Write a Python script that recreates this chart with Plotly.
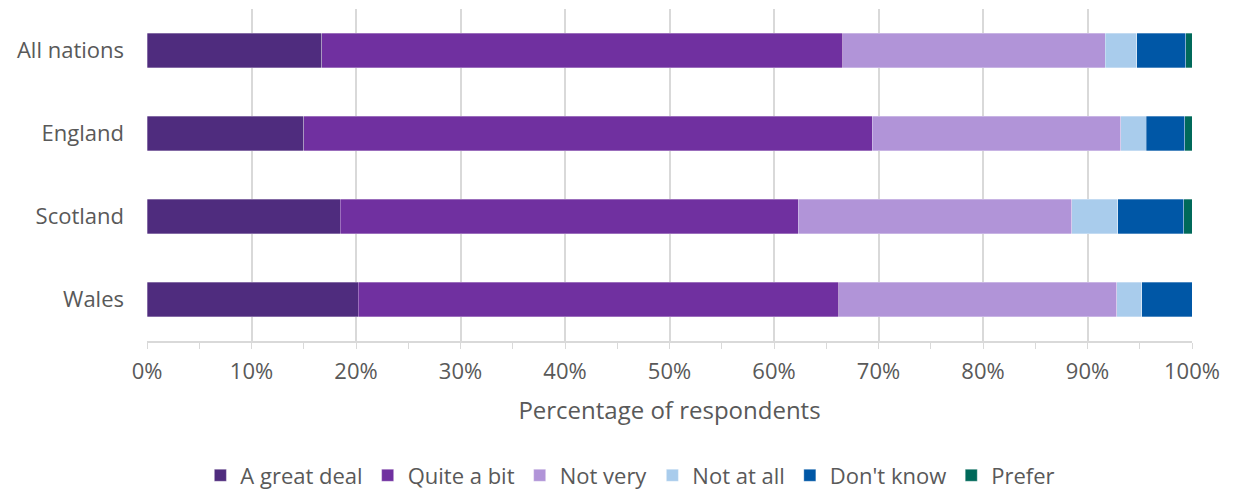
import plotly.graph_objects as go

categories = ["All nations", "England", "Scotland", "Wales"]
series_names = ["A great deal", "Quite a bit", "Not very", "Not at all", "Don't know", "Prefer"]
great_deal = [16.7, 15.0, 18.5, 20.2]
quite_a_bit = [49.9, 54.4, 43.8, 46.0]
not_very = [25.1, 23.8, 26.2, 26.6]
not_at_all = [3.0, 2.4, 4.4, 2.4]
dont_know = [4.7, 3.7, 6.3, 4.8]
prefer = [0.6, 0.7, 0.8, 0.0]
colors = ["#4F2C7E", "#7030A0", "#B194D8", "#A9CCEC", "#0057A6", "#00695A"]
tick_vals = [0, 10, 20, 30, 40, 50, 60, 70, 80, 90, 100]
tick_text = [f"{v}%" for v in tick_vals]

FONT = "Open Sans"
fig = go.Figure()
for name, vals, col in zip(series_names,
                           [great_deal, quite_a_bit, not_very, not_at_all, dont_know, prefer],
                           colors):
    fig.add_trace(go.Bar(
        y=categories, x=vals, name=name, orientation="h",
        marker=dict(color=col, line=dict(color="rgba(255,255,255,0.5)", width=0.6)),
        width=0.41,
    ))

fig.update_layout(
    barmode="stack",
    width=1236, height=492,
    margin=dict(l=147, r=44, t=9, b=151, autoexpand=False),
    plot_bgcolor="white", paper_bgcolor="white",
    font=dict(family=FONT, size=22, color="#595959"),
    legend=dict(orientation="h", xref="container", yref="paper",
                x=0.51, xanchor="center", y=-0.405, yanchor="middle",
                font=dict(size=22, color="#595959"),
                traceorder="normal", itemwidth=30),
    showlegend=True,
)
fig.update_xaxes(
    range=[0, 100], tickvals=tick_vals, ticktext=tick_text,
    showgrid=True, gridcolor="#D9D9D9", gridwidth=2,
    showline=True, linecolor="#D9D9D9", linewidth=2,
    ticks="outside", ticklen=6, tickcolor="#D9D9D9", tickwidth=1,
    minor=dict(dtick=5, ticks="outside", ticklen=6, tickcolor="#D9D9D9", showgrid=False),
    tickfont=dict(size=22, color="#595959"), ticklabelstandoff=4,
    title=dict(text="Percentage of respondents", font=dict(size=24, color="#595959"), standoff=18),
    zeroline=False, automargin=False,
)
fig.update_yaxes(
    categoryorder="array", categoryarray=categories, autorange="reversed",
    showgrid=False, showline=False, ticks="", ticklabelstandoff=22,
    tickfont=dict(size=22, color="#595959"), automargin=False,
)
fig.write_html("out.html", config={"displayModeBar": False},
               post_script="document.body.style.margin='0';document.body.style.overflow='hidden';")
